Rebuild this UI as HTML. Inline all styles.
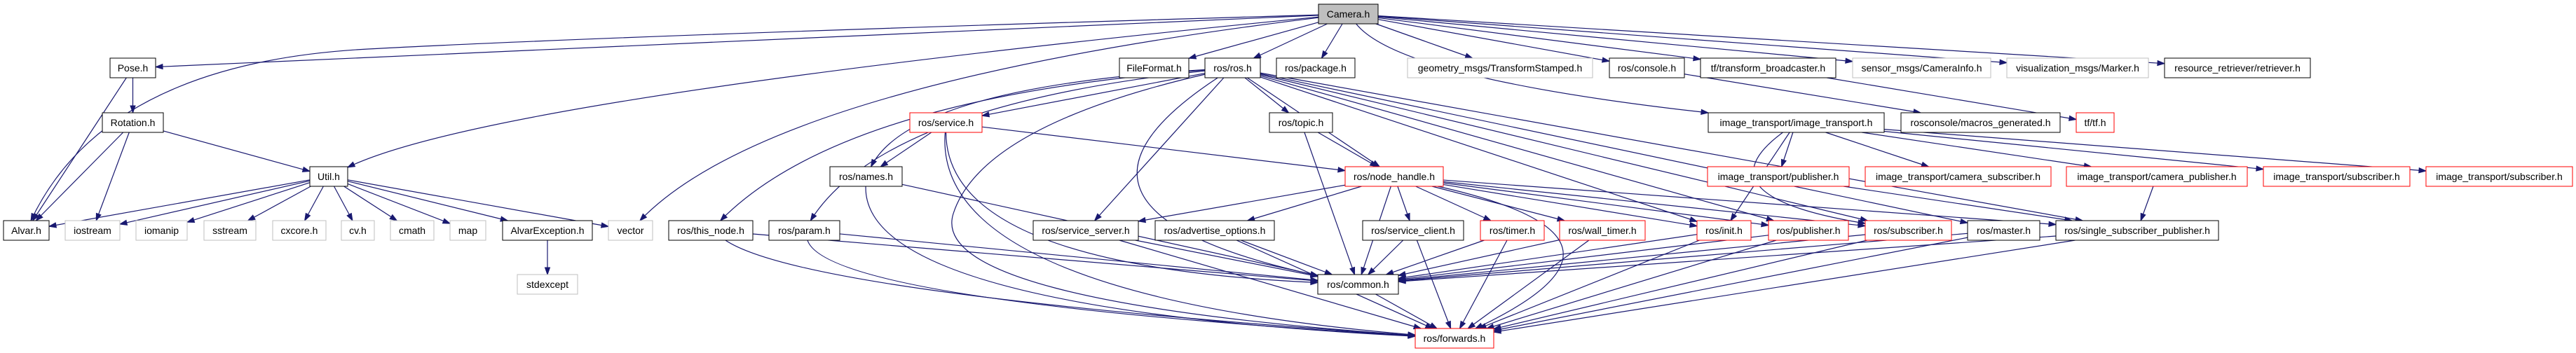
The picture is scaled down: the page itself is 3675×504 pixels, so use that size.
<!DOCTYPE html>
<html><head><meta charset="utf-8">
<style>
html,body{margin:0;padding:0;background:#fff;}
svg{display:block;}
text{font-family:"Liberation Sans",sans-serif;font-size:14px;fill:#000;}
</style></head>
<body>
<svg id="g" xmlns="http://www.w3.org/2000/svg" width="3675" height="504" viewBox="0 0 3675 504">
<g id="edges" fill="none" stroke="#191970" stroke-width="1.2"></g>
<g id="heads" fill="#191970" stroke="#191970"></g>
<g id="nodes">
<rect x="1881" y="6" width="85" height="28" fill="#bfbfbf" stroke="#000"/><text x="1923.5" y="25" text-anchor="middle">Camera.h</text>
<rect x="157" y="83" width="65" height="28" fill="#fff" stroke="#000"/><text x="189.5" y="102" text-anchor="middle">Pose.h</text>
<rect x="1597" y="83" width="99" height="28" fill="#fff" stroke="#000"/><text x="1646.5" y="102" text-anchor="middle">FileFormat.h</text>
<rect x="1719" y="83" width="79" height="28" fill="#fff" stroke="#000"/><text x="1758.5" y="102" text-anchor="middle">ros/ros.h</text>
<rect x="1821" y="83" width="112" height="28" fill="#fff" stroke="#000"/><text x="1877" y="102" text-anchor="middle">ros/package.h</text>
<rect x="2008" y="83" width="264" height="28" fill="#fff" stroke="#bfbfbf"/><text x="2140" y="102" text-anchor="middle">geometry_msgs/TransformStamped.h</text>
<rect x="2296" y="83" width="107" height="28" fill="#fff" stroke="#000"/><text x="2349.5" y="102" text-anchor="middle">ros/console.h</text>
<rect x="2426" y="83" width="193" height="28" fill="#fff" stroke="#000"/><text x="2522.5" y="102" text-anchor="middle">tf/transform_broadcaster.h</text>
<rect x="2643" y="83" width="197" height="28" fill="#fff" stroke="#bfbfbf"/><text x="2741.5" y="102" text-anchor="middle">sensor_msgs/CameraInfo.h</text>
<rect x="2863" y="83" width="202" height="28" fill="#fff" stroke="#bfbfbf"/><text x="2964" y="102" text-anchor="middle">visualization_msgs/Marker.h</text>
<rect x="3088" y="83" width="208" height="28" fill="#fff" stroke="#000"/><text x="3192" y="102" text-anchor="middle">resource_retriever/retriever.h</text>
<rect x="146" y="161" width="87" height="28" fill="#fff" stroke="#000"/><text x="189.5" y="180" text-anchor="middle">Rotation.h</text>
<rect x="1298" y="161" width="103" height="28" fill="#fff" stroke="#ff0000"/><text x="1349.5" y="180" text-anchor="middle">ros/service.h</text>
<rect x="1811" y="161" width="90" height="28" fill="#fff" stroke="#000"/><text x="1856" y="180" text-anchor="middle">ros/topic.h</text>
<rect x="2437" y="161" width="251" height="28" fill="#fff" stroke="#000"/><text x="2562.5" y="180" text-anchor="middle">image_transport/image_transport.h</text>
<rect x="2712" y="161" width="227" height="28" fill="#fff" stroke="#000"/><text x="2825.5" y="180" text-anchor="middle">rosconsole/macros_generated.h</text>
<rect x="2962" y="161" width="54" height="28" fill="#fff" stroke="#ff0000"/><text x="2989" y="180" text-anchor="middle">tf/tf.h</text>
<rect x="442" y="238" width="54" height="28" fill="#fff" stroke="#000"/><text x="469" y="257" text-anchor="middle">Util.h</text>
<rect x="1184" y="238" width="103" height="28" fill="#fff" stroke="#000"/><text x="1235.5" y="257" text-anchor="middle">ros/names.h</text>
<rect x="1919" y="238" width="140" height="28" fill="#fff" stroke="#ff0000"/><text x="1989" y="257" text-anchor="middle">ros/node_handle.h</text>
<rect x="2436" y="238" width="202" height="28" fill="#fff" stroke="#ff0000"/><text x="2537" y="257" text-anchor="middle">image_transport/publisher.h</text>
<rect x="2661" y="238" width="265" height="28" fill="#fff" stroke="#ff0000"/><text x="2793.5" y="257" text-anchor="middle">image_transport/camera_subscriber.h</text>
<rect x="2948" y="238" width="258" height="28" fill="#fff" stroke="#ff0000"/><text x="3077" y="257" text-anchor="middle">image_transport/camera_publisher.h</text>
<rect x="3229" y="238" width="209" height="28" fill="#fff" stroke="#ff0000"/><text x="3333.5" y="257" text-anchor="middle">image_transport/subscriber.h</text>
<rect x="3461" y="238" width="209" height="28" fill="#fff" stroke="#ff0000"/><text x="3565.5" y="257" text-anchor="middle">image_transport/subscriber.h</text>
<rect x="5" y="315" width="65" height="28" fill="#fff" stroke="#000"/><text x="37.5" y="334" text-anchor="middle">Alvar.h</text>
<rect x="93" y="315" width="78" height="28" fill="#fff" stroke="#bfbfbf"/><text x="132" y="334" text-anchor="middle">iostream</text>
<rect x="194" y="315" width="73" height="28" fill="#fff" stroke="#bfbfbf"/><text x="230.5" y="334" text-anchor="middle">iomanip</text>
<rect x="291" y="315" width="74" height="28" fill="#fff" stroke="#bfbfbf"/><text x="328" y="334" text-anchor="middle">sstream</text>
<rect x="389" y="315" width="76" height="28" fill="#fff" stroke="#bfbfbf"/><text x="427" y="334" text-anchor="middle">cxcore.h</text>
<rect x="487" y="315" width="47" height="28" fill="#fff" stroke="#bfbfbf"/><text x="510.5" y="334" text-anchor="middle">cv.h</text>
<rect x="557" y="315" width="62" height="28" fill="#fff" stroke="#bfbfbf"/><text x="588" y="334" text-anchor="middle">cmath</text>
<rect x="642" y="315" width="51" height="28" fill="#fff" stroke="#bfbfbf"/><text x="667.5" y="334" text-anchor="middle">map</text>
<rect x="717" y="315" width="128" height="28" fill="#fff" stroke="#000"/><text x="781" y="334" text-anchor="middle">AlvarException.h</text>
<rect x="868" y="315" width="63" height="28" fill="#fff" stroke="#bfbfbf"/><text x="899.5" y="334" text-anchor="middle">vector</text>
<rect x="954" y="315" width="120" height="28" fill="#fff" stroke="#000"/><text x="1014" y="334" text-anchor="middle">ros/this_node.h</text>
<rect x="1097" y="315" width="101" height="28" fill="#fff" stroke="#000"/><text x="1147.5" y="334" text-anchor="middle">ros/param.h</text>
<rect x="1474" y="315" width="150" height="28" fill="#fff" stroke="#000"/><text x="1549" y="334" text-anchor="middle">ros/service_server.h</text>
<rect x="1648" y="315" width="170" height="28" fill="#fff" stroke="#000"/><text x="1733" y="334" text-anchor="middle">ros/advertise_options.h</text>
<rect x="1944" y="315" width="144" height="28" fill="#fff" stroke="#000"/><text x="2016" y="334" text-anchor="middle">ros/service_client.h</text>
<rect x="2112" y="315" width="91" height="28" fill="#fff" stroke="#ff0000"/><text x="2157.5" y="334" text-anchor="middle">ros/timer.h</text>
<rect x="2225" y="315" width="122" height="28" fill="#fff" stroke="#ff0000"/><text x="2286" y="334" text-anchor="middle">ros/wall_timer.h</text>
<rect x="2421" y="315" width="77" height="28" fill="#fff" stroke="#ff0000"/><text x="2459.5" y="334" text-anchor="middle">ros/init.h</text>
<rect x="2523" y="315" width="114" height="28" fill="#fff" stroke="#ff0000"/><text x="2580" y="334" text-anchor="middle">ros/publisher.h</text>
<rect x="2661" y="315" width="123" height="28" fill="#fff" stroke="#ff0000"/><text x="2722.5" y="334" text-anchor="middle">ros/subscriber.h</text>
<rect x="2807" y="315" width="103" height="28" fill="#fff" stroke="#000"/><text x="2858.5" y="334" text-anchor="middle">ros/master.h</text>
<rect x="2933" y="315" width="232" height="28" fill="#fff" stroke="#000"/><text x="3049" y="334" text-anchor="middle">ros/single_subscriber_publisher.h</text>
<rect x="738" y="392" width="86" height="28" fill="#fff" stroke="#bfbfbf"/><text x="781" y="411" text-anchor="middle">stdexcept</text>
<rect x="1880" y="392" width="115" height="28" fill="#fff" stroke="#000"/><text x="1937.5" y="411" text-anchor="middle">ros/common.h</text>
<rect x="2019" y="469" width="112" height="28" fill="#fff" stroke="#ff0000"/><text x="2075" y="488" text-anchor="middle">ros/forwards.h</text>
</g>
</svg>
<script>
var N={
cam:[1881,1966,6],pose:[157,222,83],ff:[1597,1696,83],ros:[1719,1798,83],pkg:[1821,1933,83],geo:[2008,2272,83],con:[2296,2403,83],tfb:[2426,2619,83],sen:[2643,2840,83],vis:[2863,3065,83],rr:[3088,3296,83],
rot:[146,233,161],svc:[1298,1401,161],top:[1811,1901,161],it:[2437,2688,161],mac:[2712,2939,161],tf:[2962,3016,161],
util:[442,496,238],names:[1184,1287,238],nh:[1919,2059,238],itp:[2436,2638,238],itcs:[2661,2926,238],itcp:[2948,3206,238],its1:[3229,3438,238],its2:[3461,3670,238],
alvar:[5,70,315],ios:[93,171,315],iom:[194,267,315],ss:[291,365,315],cx:[389,465,315],cv:[487,534,315],cm:[557,619,315],map:[642,693,315],ae:[717,845,315],vec:[868,931,315],tn:[954,1074,315],par:[1097,1198,315],ss2:[1474,1624,315],ao:[1648,1818,315],sc:[1944,2088,315],tim:[2112,2203,315],wt:[2225,2347,315],init:[2421,2498,315],pub:[2523,2637,315],sub:[2661,2784,315],mas:[2807,2910,315],ssp:[2933,3165,315],
se:[738,824,392],com:[1880,1995,392],fw:[2019,2131,469]};
var E=[
['cam','alvar',[[900,50],[150,90]]],['cam','pose'],['cam','util',[[700,140]]],['cam','vec',[[1100,120]]],['cam','ff'],['cam','ros'],['cam','pkg'],['cam','geo'],['cam','con'],['cam','tfb'],['cam','sen'],['cam','vis'],['cam','rr'],['cam','it',[[1997,112]]],
['pose','alvar'],['pose','rot'],['rot','alvar'],['rot','ios'],['rot','util'],
['util','alvar'],['util','ios'],['util','iom'],['util','ss'],['util','cx'],['util','cv'],['util','cm'],['util','map'],['util','ae'],['util','vec'],['ae','se'],
['ros','svc'],['ros','names',[[1300,125]]],['ros','tn',[[1200,140]]],['ros','par',[[1260,150]]],['ros','ss2'],['ros','top'],['ros','nh'],['ros','com',[[1450,300]]],['ros','init'],['ros','pub'],['ros','sub'],['ros','mas'],['ros','ssp'],['ros','fw',[[1400,180],[1320,430]]],
['svc','names'],['svc','nh'],['svc','com',[[1350,380]]],['svc','fw',[[1330,420]]],
['names','com'],['names','fw',[[1230,440]]],['tn','com'],['tn','fw',[[1150,420]]],['par','com'],['par','fw',[[1180,430]]],
['top','nh'],['top','com'],
['nh','ss2'],['nh','ao'],['nh','sc'],['nh','tim'],['nh','wt'],['nh','com'],['nh','init'],['nh','pub'],['nh','sub'],['nh','ssp'],['nh','fw',[[2380,340]]],
['ss2','com'],['ss2','fw'],['ao','com'],['ao','fw'],['sc','com'],['sc','fw'],['tim','com'],['tim','fw'],['wt','com'],['wt','fw'],['init','com'],['init','fw'],['pub','com'],['pub','fw'],['sub','com'],['sub','fw'],['mas','com'],['mas','fw'],['ssp','com'],['ssp','fw'],['com','fw'],
['con','mac'],['tfb','tf'],
['it','itp'],['it','itcs'],['it','itcp'],['it','its1'],['it','its2'],['it','sub',[[2420,280]]],['it','init'],['itp','ssp'],['itcp','ssp']];
function box(k){var n=N[k];return {x1:n[0],x2:n[1],y1:n[2],y2:n[2]+28,cx:(n[0]+n[1])/2,cy:n[2]+14};}
function clip(b,px,py){ // from center toward (px,py), find boundary point
 var dx=px-b.cx,dy=py-b.cy,t=1e9;
 if(dx!==0){t=Math.min(t,Math.abs((dx>0?b.x2-b.cx:b.cx-b.x1)/dx));}
 if(dy!==0){t=Math.min(t,Math.abs(14/dy));}
 return [b.cx+dx*t,b.cy+dy*t];}
var eg=document.getElementById('edges'),hg=document.getElementById('heads'),ns='http://www.w3.org/2000/svg';
E.forEach(function(e){
 var a=box(e[0]),b=box(e[1]),via=e[2]||[];
 var first=via.length?via[0]:[b.cx,b.cy],last=via.length?via[via.length-1]:[a.cx,a.cy];
 var s=clip(a,first[0],first[1]),t=clip(b,last[0],last[1]);
 var pts=[s].concat(via).concat([t]);
 var d='M'+pts[0][0]+','+pts[0][1];
 if(pts.length==2){d+=' L'+pts[1][0]+','+pts[1][1];}
 else{for(var i=1;i<pts.length-1;i++){var m=[(pts[i][0]+pts[i+1][0])/2,(pts[i][1]+pts[i+1][1])/2];if(i==pts.length-2)m=pts[i+1];d+=' Q'+pts[i][0]+','+pts[i][1]+' '+m[0]+','+m[1];}}
 var p=document.createElementNS(ns,'path');p.setAttribute('d',d);eg.appendChild(p);
 var pr=pts[pts.length-2],ux=t[0]-pr[0],uy=t[1]-pr[1],L=Math.hypot(ux,uy)||1;ux/=L;uy/=L;
 var bx=t[0]-ux*10,by=t[1]-uy*10;
 var h=document.createElementNS(ns,'polygon');
 h.setAttribute('points',t[0]+','+t[1]+' '+(bx-uy*3.5)+','+(by+ux*3.5)+' '+(bx+uy*3.5)+','+(by-ux*3.5));
 hg.appendChild(h);
});
</script>
</body></html>
